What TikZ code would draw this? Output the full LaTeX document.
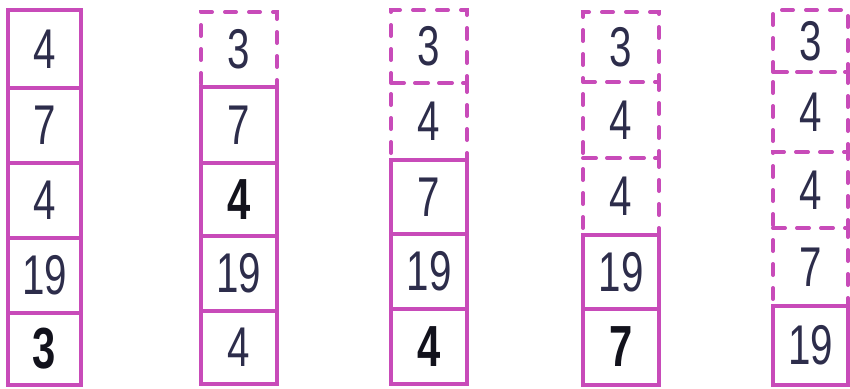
\documentclass[tikz,border=0pt]{standalone}
\usepackage{fontspec}
\newfontfamily\digfont[FakeStretch=0.72]{Liberation Sans}
\definecolor{mag}{RGB}{200,75,185}
\definecolor{ink}{RGB}{45,45,75}
\definecolor{inkbold}{RGB}{18,18,28}
\tikzset{
  cellbox/.style={draw=mag, line width=4.5pt, rectangle, inner sep=0pt, outer sep=0pt,
    font=\digfont\fontsize{56}{56}\selectfont, text=ink},
  solidcell/.style={cellbox},
  dashcell/.style={cellbox, line width=4pt, dash pattern=on 11pt off 13pt, line cap=round},
  boldnum/.style={font=\digfont\bfseries\fontsize{58}{58}\selectfont, text=inkbold}
}
\newcommand{\mkcell}[7]{%
  \node[#6, minimum width={(#4-#2)*1pt}, minimum height={(#5-#3)*1pt}]
    (#1) at ({(#2+#4)/2},{(#3+#5)/2}) {#7};}
\begin{document}
\begin{tikzpicture}[x=1pt,y=-1pt]
\useasboundingbox (0,0) rectangle (850,388);
\fill[white] (0,0) rectangle (850,388);
% column 1
\mkcell{a1}{8}{10}{81}{88}{solidcell}{4}
\mkcell{a2}{8}{88}{81}{163}{solidcell}{7}
\mkcell{a3}{8}{163}{81}{238}{solidcell}{4}
\mkcell{a4}{8}{238}{81}{313}{solidcell}{19}
\mkcell{a5}{8}{313}{81}{385}{solidcell,boldnum}{3}
% column 2
\mkcell{b1}{201}{12}{277}{87}{dashcell}{3}
\mkcell{b2}{201}{87}{277}{163}{solidcell}{7}
\mkcell{b3}{201}{163}{277}{236}{solidcell,boldnum}{4}
\mkcell{b4}{201}{236}{277}{311}{solidcell}{19}
\mkcell{b5}{201}{311}{277}{384}{solidcell}{4}
% column 3
\mkcell{c1}{391}{10}{467}{83}{dashcell}{3}
\mkcell{c2}{391}{83}{467}{160}{dashcell}{4}
\mkcell{c3}{391}{160}{467}{234}{solidcell}{7}
\mkcell{c4}{391}{234}{467}{309}{solidcell}{19}
\mkcell{c5}{391}{309}{467}{384}{solidcell,boldnum}{4}
% column 4
\mkcell{d1}{583}{12}{659}{82}{dashcell}{3}
\mkcell{d2}{583}{82}{659}{158}{dashcell}{4}
\mkcell{d3}{583}{158}{659}{235}{dashcell}{4}
\mkcell{d4}{583}{235}{659}{309}{solidcell}{19}
\mkcell{d5}{583}{309}{659}{385}{solidcell,boldnum}{7}
% column 5
\mkcell{e1}{773}{10}{848}{72}{dashcell}{3}
\mkcell{e2}{773}{72}{848}{152}{dashcell}{4}
\mkcell{e3}{773}{152}{848}{228}{dashcell}{4}
\mkcell{e4}{773}{228}{848}{306}{dashcell}{7}
\mkcell{e5}{773}{306}{848}{385}{solidcell}{19}
\end{tikzpicture}
\end{document}
